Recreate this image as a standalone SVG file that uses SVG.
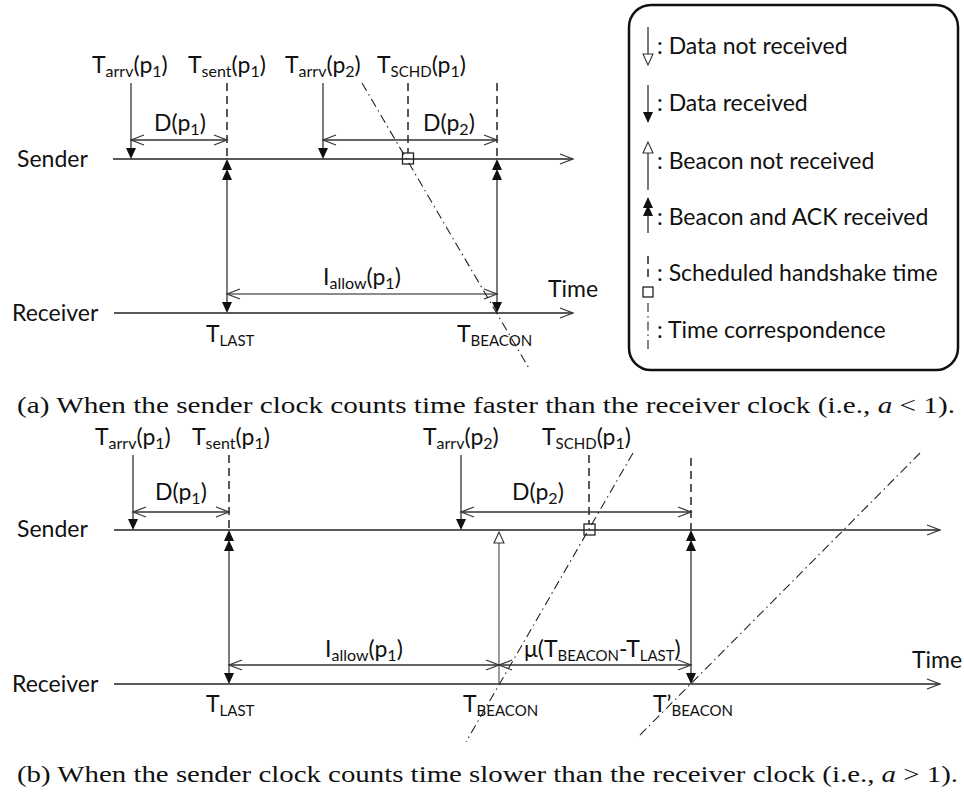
<svg xmlns="http://www.w3.org/2000/svg" xmlns:xlink="http://www.w3.org/1999/xlink" width="964" height="792" viewBox="0 0 964 792">
  <style>
    .ax { stroke: #222; stroke-width: 1.4; fill: none; }
    .ln { stroke: #333; stroke-width: 1.3; fill: none; }
    .gr { stroke: #666; stroke-width: 1.3; fill: none; }
    .dash { stroke: #222; stroke-width: 1.5; fill: none; stroke-dasharray: 8 5; }
    .dd { stroke: #222; stroke-width: 1.1; fill: none; stroke-dasharray: 9 4 1.5 4; }
    .filled { fill: #111; stroke: none; }
    .hollow { fill: #fff; stroke: #333; stroke-width: 1.1; }
    .chev { fill: none; stroke: #333; stroke-width: 1.2; }
    .sq { fill: none; stroke: #222; stroke-width: 1.3; }
    .lbl { font-family: Lato, "Open Sans", sans-serif; font-size: 23px; fill: #111; }
    .sub { font-size: 16px; }
    .subc { font-size: 15px; }
    .cap { font-family: "Liberation Serif", "Times New Roman", serif; font-size: 23px; fill: #111; }
  </style>
  <defs>
    <!-- filled arrowheads, tip at origin -->
    <path id="hdn" class="filled" d="M0,0 L-5,-11 L5,-11 Z"/>
    <path id="hup" class="filled" d="M0,0 L-5,11 L5,11 Z"/>
    <!-- hollow arrowheads, tip at origin -->
    <path id="odn" class="hollow" d="M0,0 L-5,-11 L5,-11 Z"/>
    <path id="oup" class="hollow" d="M0,0 L-5,11 L5,11 Z"/>
    <!-- open chevrons for dimension arrows and axes -->
    <path id="chr" class="chev" d="M-13,-5 L0,0 L-13,5"/>
    <path id="chl" class="chev" d="M13,-5 L0,0 L13,5"/>
  </defs>

  <!-- ===================== Case (a) ===================== -->
  <g id="a-sender-axis">
    <path class="ax" d="M113,159 H573"/>
    <use href="#chr" x="573" y="159"/>
    <text class="lbl" x="17" y="167">Sender</text>
  </g>
  <g id="a-receiver-axis">
    <path class="ax" d="M114,313 H573"/>
    <use href="#chr" x="573" y="313"/>
    <text class="lbl" x="12" y="321">Receiver</text>
    <text class="lbl" x="548" y="297">Time</text>
  </g>

  <g id="a-tarrv1">
    <text class="lbl" x="92" y="73">T<tspan class="sub" dy="4">arrv</tspan><tspan dy="-4">(p</tspan><tspan class="sub" dy="4">1</tspan><tspan dy="-4">)</tspan></text>
  </g>
  <g id="a-tsent1">
    <text class="lbl" x="188" y="73">T<tspan class="sub" dy="4">sent</tspan><tspan dy="-4">(p</tspan><tspan class="sub" dy="4">1</tspan><tspan dy="-4">)</tspan></text>
  </g>
  <g id="a-tarrv2">
    <text class="lbl" x="285" y="73">T<tspan class="sub" dy="4">arrv</tspan><tspan dy="-4">(p</tspan><tspan class="sub" dy="4">2</tspan><tspan dy="-4">)</tspan></text>
  </g>
  <g id="a-tschd1">
    <text class="lbl" x="377" y="73">T<tspan class="subc" dy="4">SCHD</tspan><tspan dy="-4">(p</tspan><tspan class="sub" dy="4">1</tspan><tspan dy="-4">)</tspan></text>
    <rect class="sq" x="402.5" y="153" width="11" height="11"/>
  </g>
  <g id="a-tlast">
    <text class="lbl" x="206" y="342">T<tspan class="subc" dy="4">LAST</tspan></text>
  </g>
  <g id="a-tbeacon">
    <text class="lbl" x="457" y="342">T<tspan class="subc" dy="4">BEACON</tspan></text>
  </g>

  <g id="a-connectors">
    <!-- data arrivals -->
    <path class="ln" d="M131,83 V149"/>
    <use href="#hdn" x="131" y="159"/>
    <path class="ln" d="M323,83 V149"/>
    <use href="#hdn" x="323" y="159"/>
    <!-- scheduled / sent times -->
    <path class="dash" d="M227,83 V159"/>
    <path class="dash" d="M408,83 V153"/>
    <path class="dash" d="M497,83 V159"/>
    <!-- beacon + ACK exchanges -->
    <path class="ln" d="M227,178 V303"/>
    <use href="#hup" x="227" y="159"/>
    <use href="#hup" x="227" y="169"/>
    <use href="#hdn" x="227" y="313"/>
    <path class="ln" d="M497,178 V303"/>
    <use href="#hup" x="497" y="159"/>
    <use href="#hup" x="497" y="169"/>
    <use href="#hdn" x="497" y="313"/>
    <!-- delays -->
    <path class="ln" d="M131,140 H227"/>
    <use href="#chl" x="131" y="140"/>
    <use href="#chr" x="227" y="140"/>
    <text class="lbl" x="154" y="131">D(p<tspan class="sub" dy="4">1</tspan><tspan dy="-4">)</tspan></text>
    <path class="ln" d="M323,140 H497"/>
    <use href="#chl" x="323" y="140"/>
    <use href="#chr" x="497" y="140"/>
    <text class="lbl" x="423" y="131">D(p<tspan class="sub" dy="4">2</tspan><tspan dy="-4">)</tspan></text>
    <!-- allowed interval -->
    <path class="gr" d="M227,294 H497"/>
    <use href="#chl" x="227" y="294"/>
    <use href="#chr" x="497" y="294"/>
    <text class="lbl" x="323" y="285">I<tspan class="sub" dy="4">allow</tspan><tspan dy="-4">(p</tspan><tspan class="sub" dy="4">1</tspan><tspan dy="-4">)</tspan></text>
    <!-- time correspondence -->
    <path class="dd" d="M362,83 L530,370"/>
  </g>

  <!-- ===================== Legend ===================== -->
  <g id="legend">
    <rect x="629" y="5" width="329" height="365" rx="22" ry="22" fill="none" stroke="#111" stroke-width="2.5"/>
    <path class="ln" d="M648,27 V54"/>
    <use href="#odn" x="648" y="65"/>
    <text class="lbl" x="657" y="54">: Data not received</text>

    <path class="ln" d="M648,85 V112"/>
    <use href="#hdn" x="648" y="123"/>
    <text class="lbl" x="657" y="111">: Data received</text>

    <use href="#oup" x="648" y="142"/>
    <path class="ln" d="M648,153 V190"/>
    <text class="lbl" x="657" y="169">: Beacon not received</text>

    <use href="#hup" x="648" y="197"/>
    <use href="#hup" x="648" y="205"/>
    <path class="ln" d="M648,215 V233"/>
    <text class="lbl" x="657" y="225">: Beacon and ACK received</text>

    <path class="dash" d="M648,256 V282"/>
    <rect class="sq" x="643" y="287" width="10" height="10"/>
    <text class="lbl" x="657" y="281">: Scheduled handshake time</text>

    <path class="dd" d="M648,303 V350"/>
    <text class="lbl" x="657" y="338">: Time correspondence</text>
  </g>

  <g id="caption-a">
    <text class="cap" x="17" y="413" textLength="938" lengthAdjust="spacingAndGlyphs">(a) When the sender clock counts time faster than the receiver clock (i.e., <tspan font-style="italic">a</tspan> &lt; 1).</text>
  </g>

  <!-- ===================== Case (b) ===================== -->
  <g id="b-sender-axis">
    <path class="ax" d="M114,530 H940"/>
    <use href="#chr" x="940" y="530"/>
    <text class="lbl" x="17" y="537">Sender</text>
  </g>
  <g id="b-receiver-axis">
    <path class="ax" d="M114,684 H940"/>
    <use href="#chr" x="940" y="684"/>
    <text class="lbl" x="12" y="692">Receiver</text>
    <text class="lbl" x="912" y="668">Time</text>
  </g>

  <g id="b-tarrv1">
    <text class="lbl" x="95" y="445">T<tspan class="sub" dy="4">arrv</tspan><tspan dy="-4">(p</tspan><tspan class="sub" dy="4">1</tspan><tspan dy="-4">)</tspan></text>
  </g>
  <g id="b-tsent1">
    <text class="lbl" x="192" y="445">T<tspan class="sub" dy="4">sent</tspan><tspan dy="-4">(p</tspan><tspan class="sub" dy="4">1</tspan><tspan dy="-4">)</tspan></text>
  </g>
  <g id="b-tarrv2">
    <text class="lbl" x="423" y="445">T<tspan class="sub" dy="4">arrv</tspan><tspan dy="-4">(p</tspan><tspan class="sub" dy="4">2</tspan><tspan dy="-4">)</tspan></text>
  </g>
  <g id="b-tschd1">
    <text class="lbl" x="542" y="445">T<tspan class="subc" dy="4">SCHD</tspan><tspan dy="-4">(p</tspan><tspan class="sub" dy="4">1</tspan><tspan dy="-4">)</tspan></text>
    <rect class="sq" x="584" y="524" width="11" height="11"/>
  </g>
  <g id="b-tlast">
    <text class="lbl" x="206" y="712">T<tspan class="subc" dy="4">LAST</tspan></text>
  </g>
  <g id="b-tbeacon">
    <text class="lbl" x="463" y="712">T<tspan class="subc" dy="4">BEACON</tspan></text>
  </g>
  <g id="b-tbeacon-prime">
    <text class="lbl" x="653" y="712">T’<tspan class="subc" dy="4">BEACON</tspan></text>
  </g>

  <g id="b-connectors">
    <!-- data arrivals -->
    <path class="ln" d="M133,455 V520"/>
    <use href="#hdn" x="133" y="530"/>
    <path class="ln" d="M461,455 V520"/>
    <use href="#hdn" x="461" y="530"/>
    <!-- scheduled / sent times -->
    <path class="dash" d="M229,455 V530"/>
    <path class="dash" d="M589,455 V524"/>
    <path class="dash" d="M691,458 V530"/>
    <!-- beacon + ACK exchanges -->
    <path class="ln" d="M229,549 V674"/>
    <use href="#hup" x="229" y="530"/>
    <use href="#hup" x="229" y="540"/>
    <use href="#hdn" x="229" y="684"/>
    <path class="ln" d="M691,549 V674"/>
    <use href="#hup" x="691" y="530"/>
    <use href="#hup" x="691" y="540"/>
    <use href="#hdn" x="691" y="684"/>
    <!-- beacon not received -->
    <path class="gr" d="M499,543 V684"/>
    <use href="#oup" x="499" y="532"/>
    <!-- delays -->
    <path class="ln" d="M133,512 H229"/>
    <use href="#chl" x="133" y="512"/>
    <use href="#chr" x="229" y="512"/>
    <text class="lbl" x="155" y="500">D(p<tspan class="sub" dy="4">1</tspan><tspan dy="-4">)</tspan></text>
    <path class="ln" d="M461,512 H691"/>
    <use href="#chl" x="461" y="512"/>
    <use href="#chr" x="691" y="512"/>
    <text class="lbl" x="512" y="500">D(p<tspan class="sub" dy="4">2</tspan><tspan dy="-4">)</tspan></text>
    <!-- allowed interval and its stretched version -->
    <path class="ln" d="M229,665 H499"/>
    <use href="#chl" x="229" y="665"/>
    <use href="#chr" x="499" y="665"/>
    <text class="lbl" x="325" y="657">I<tspan class="sub" dy="4">allow</tspan><tspan dy="-4">(p</tspan><tspan class="sub" dy="4">1</tspan><tspan dy="-4">)</tspan></text>
    <path class="ln" d="M499,665 H691"/>
    <use href="#chl" x="499" y="665"/>
    <use href="#chr" x="691" y="665"/>
    <text class="lbl" x="524" y="657">μ(T<tspan class="subc" dy="4">BEACON</tspan><tspan dy="-4">-T</tspan><tspan class="subc" dy="4">LAST</tspan><tspan dy="-4">)</tspan></text>
    <!-- time correspondence -->
    <path class="dd" d="M633,453 L466,742"/>
    <path class="dd" d="M920,453 L637,738"/>
  </g>

  <g id="caption-b">
    <text class="cap" x="17" y="782" textLength="941" lengthAdjust="spacingAndGlyphs">(b) When the sender clock counts time slower than the receiver clock (i.e., <tspan font-style="italic">a</tspan> &gt; 1).</text>
  </g>
</svg>
